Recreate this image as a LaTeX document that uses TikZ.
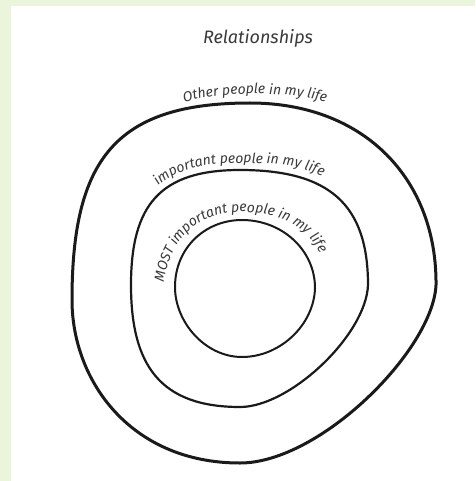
\documentclass[tikz,border=0pt]{standalone}
\usepackage{fontspec}
\setmainfont{Fira Sans}
\usetikzlibrary{decorations.text}
\definecolor{bggreen}{HTML}{EBF5DB}
\definecolor{ink}{HTML}{1A1A1A}
\definecolor{txt}{HTML}{3A3A3A}
\tikzset{
  loopline/.style={draw=ink, line cap=round, line join=round},
}
\newcommand{\arctext}[3]{%
  \path[decorate, decoration={text along path, text align=center,
      text={|\fontsize{#1}{#1}\selectfont\itshape\color{txt}|#2}}] #3;}
\begin{document}
\begin{tikzpicture}[x=1pt,y=-1pt]
\useasboundingbox (0,0) rectangle (475,481);
\fill[bggreen] (0,0) rectangle (475,481);
\fill[white] (11,6) rectangle (475,481);

\node[font=\fontsize{18}{20}\selectfont\itshape, text=txt] (title) at (258,38) {Relationships};

% outer loop
\draw[loopline, line width=3pt]
  (250,103) .. controls (365,103) and (437,180) .. (436,285)
            .. controls (433,350) and (320,463) .. (240,463)
            .. controls (130,463) and (72,380) .. (72,300)
            .. controls (72,160) and (115,103) .. cycle;

% middle loop
\draw[loopline, line width=2.2pt]
  (240,170) .. controls (330,170) and (368,205) .. (368,285)
            .. controls (366,335) and (290,407) .. (240,407)
            .. controls (160,407) and (131,365) .. (131,285)
            .. controls (131,205) and (160,170) .. cycle;

% inner loop
\draw[loopline, line width=2pt]
  (242,220) .. controls (282,220) and (315,250) .. (315,288)
            .. controls (314,325) and (280,357) .. (242,357)
            .. controls (205,357) and (175,322) .. (175,287)
            .. controls (175,248) and (205,220) .. cycle;

% curved labels
\arctext{14}{Other people in my life}{(155,114) .. controls (198,87) and (312,87) .. (355,114)}
\arctext{14}{important people in my life}{(140,220) .. controls (148,176) and (190,163) .. (240,163) .. controls (292,163) and (332,168) .. (348,205)}
\arctext{14}{MOST important people in my life}{(162,310) .. controls (161,242) and (195,212) .. (242,212) .. controls (287,212) and (320,232) .. (328,280)}
\end{tikzpicture}
\end{document}
